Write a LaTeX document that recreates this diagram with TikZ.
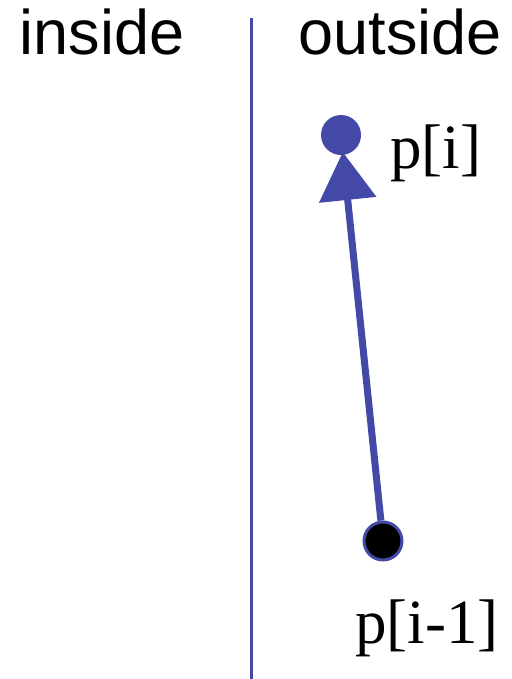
\documentclass[tikz,border=0pt]{standalone}
\usepackage{fontspec}
\usetikzlibrary{arrows.meta,positioning}
\setmainfont{Liberation Serif}
\newfontfamily\arialfont{Liberation Sans}
\definecolor{wallblue}{HTML}{4449A8}
\tikzset{wall/.style={draw=wallblue,line width=3pt},
  side/.style={font=\arialfont\fontsize{63}{72}\selectfont,inner sep=0pt,anchor=base},
  ptlabel/.style={font=\fontsize{63}{72}\selectfont,inner sep=0pt,anchor=base},
  bluedot/.style={circle,fill=wallblue,minimum size=40pt,inner sep=0pt},
  blackdot/.style={circle,fill=black,draw=wallblue,line width=3pt,minimum size=38pt,inner sep=0pt},
  edge/.style={-{Triangle[length=48pt,width=56pt]},line width=7pt,draw=wallblue,shorten >=-3pt}}
\begin{document}
\begin{tikzpicture}[x=1pt,y=-1pt]
\useasboundingbox (0,0) rectangle (511,679);
% dividing line
\coordinate (walltop) at (251,18);
\coordinate (wallbot) at (251,679);
\draw[wall] (walltop)--(wallbot);
\node[side] (inside) at (102,55) {inside};
\node[side] (outside) at (400,55) {outside};
% points
\node[bluedot] (pcur) at (341,135) {};
\node[blackdot] (pprev) at (383,541) {};
\draw[edge] (pprev)--(pcur);
\node[ptlabel,anchor=base west] (pcurlabel) at (390,168) {p[i]};
\node[ptlabel] (pprevlabel) at (427,643) {p[i-1]};
\end{tikzpicture}
\end{document}
